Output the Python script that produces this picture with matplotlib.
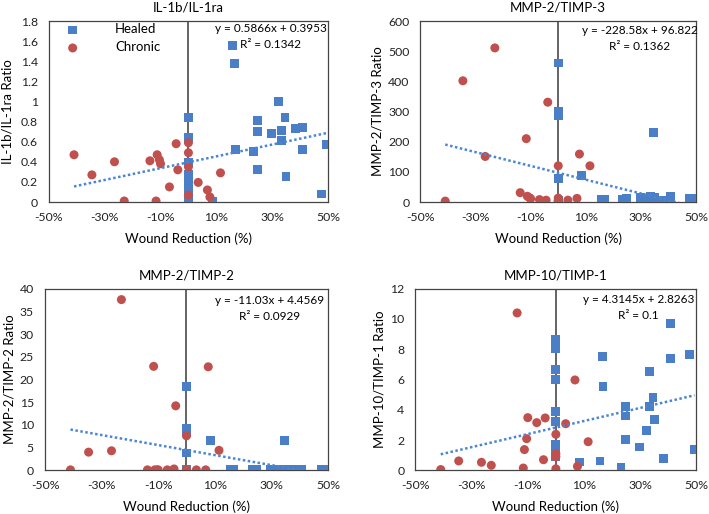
import matplotlib.pyplot as plt
import numpy as np
from matplotlib.ticker import FuncFormatter, MultipleLocator

plt.rcParams['font.family'] = ['Lato', 'DejaVu Sans']

# Wound reduction (as fraction) per patient, same order in every panel
healed_x = [0, 0, 0, 0, 0, 0, 0, 0, 0,
            0.085, 0.157, 0.166, 0.168, 0.232, 0.247, 0.247, 0.247, 0.298,
            0.323, 0.334, 0.334, 0.346, 0.350, 0.383, 0.408, 0.408, 0.476, 0.494]
chronic_x = [-0.41, -0.346, -0.265, -0.230, -0.138, -0.116, -0.112, -0.104,
             -0.100, -0.068, -0.044, -0.038, 0, 0, 0, 0, 0.035, 0.068, 0.077, 0.115]

# IL-1b/IL-1ra
il1_healed = [0.84, 0.64, 0.39, 0.27, 0.22, 0.18, 0.13, 0.08, 0.02,
              0.01, 1.56, 1.38, 0.52, 0.50, 0.81, 0.70, 0.32, 0.68,
              1.00, 0.71, 0.61, 0.84, 0.25, 0.73, 0.74, 0.52, 0.08, 0.57]
il1_chronic = [0.47, 0.27, 0.40, 0.01, 0.41, 0.01, 0.47, 0.42, 0.38, 0.15,
               0.58, 0.32, 0.59, 0.49, 0.35, 0.07, 0.195, 0.12, 0.05, 0.29]

# MMP-2/TIMP-3
m23_healed = [461, 302, 285, 79, 6, 4, 3, 2, 1,
              87, 7, 9, 8, 10, 12, 11, 13, 14,
              13, 15, 17, 230, 15, 4, 12, 20, 11, 11]
m23_chronic = [3, 402, 151, 511, 31, 210, 19, 14, 11, 8,
               6, 331, 120, 13, 5, 2, 6, 12, 159, 120]

# MMP-2/TIMP-2
m22_healed = [18.5, 9.3, 8.4, 3.8, 0.1, 0.1, 0.1, 0.1, 0.1,
              6.6, 0.1, 0.1, 0.1, 0.1, 0.1, 0.1, 0.1, 0.1,
              0.1, 0.1, 0.1, 6.6, 0.1, 0.1, 0.1, 0.1, 0.1, 0.1]
m22_chronic = [0.1, 4.0, 4.3, 37.6, 0.1, 22.9, 0.1, 0.1, 0.1, 0.1,
               0.3, 14.2, 7.6, 0.1, 0.1, 0.1, 0.1, 0.1, 22.8, 4.4]

# MMP-10/TIMP-1
m101_healed = [8.66, 8.04, 6.67, 5.99, 3.90, 3.24, 1.7, 1.3, 0.9,
               0.55, 0.62, 7.51, 5.55, 0.20, 4.23, 3.59, 2.05, 1.54,
               2.62, 6.54, 4.23, 4.80, 3.37, 0.77, 9.69, 7.38, 7.67, 1.39]
m101_chronic = [0.05, 0.62, 0.53, 0.33, 10.4, 0.15, 1.37, 2.09, 3.48, 3.15,
                0.70, 3.46, 2.38, 1.1, 0.9, 0.1, 3.08, 5.97, 0.26, 1.89]

titles = ["IL-1b/IL-1ra", "MMP-2/TIMP-3", "MMP-2/TIMP-2", "MMP-10/TIMP-1"]
ylabels = ["IL-1b/IL-1ra Ratio", "MMP-2/TIMP-3 Ratio", "MMP-2/TIMP-2 Ratio", "MMP-10/TIMP-1 Ratio"]
slopes = [0.5866, -228.58, -11.03, 4.3145]
intercepts = [0.3953, 96.822, 4.4569, 2.8263]
eq_texts = ["y = 0.5866x + 0.3953\nR² = 0.1342",
            "y = -228.58x + 96.822\nR² = 0.1362",
            "y = -11.03x + 4.4569\nR² = 0.0929",
            "y = 4.3145x + 2.8263\nR² = 0.1"]
ymax = [1.8, 600, 40, 12]
ystep = [0.2, 100, 5, 2]
healed_y = [il1_healed, m23_healed, m22_healed, m101_healed]
chronic_y = [il1_chronic, m23_chronic, m22_chronic, m101_chronic]

BLUE = "#4A7EC7"
RED = "#C0504D"
TREND = "#4A86D4"

fig = plt.figure(figsize=(7.09, 5.14), dpi=100)
boxes = [[0.069, 0.607, 0.3935, 0.352],
         [0.593, 0.607, 0.3887, 0.352],
         [0.0635, 0.085, 0.399, 0.3533],
         [0.586, 0.085, 0.396, 0.3533]]
ylab_x = [-0.149, -0.155, -0.126, -0.128]
eq_y = [0.914, 0.905, 0.89, 0.899]


def fmt_y(v, pos):
    return f"{v:g}"


for i in range(4):
    ax = fig.add_axes(boxes[i])
    ax.axvline(0, color="#3A3A3A", lw=1.1, zorder=1)
    ax.scatter(healed_x, healed_y[i], marker="s", s=40, color=BLUE,
               edgecolors="none", zorder=3, label="Healed")
    ax.scatter(chronic_x, chronic_y[i], marker="o", s=42, color=RED,
               edgecolors="none", zorder=4, label="Chronic")

    # linear trend line over combined data range
    all_x = np.array(healed_x + chronic_x)
    xs = np.array([all_x.min(), all_x.max()])
    ax.plot(xs, slopes[i] * xs + intercepts[i], linestyle=(0, (1, 1)),
            color=TREND, lw=1.8, zorder=5)

    ax.set_xlim(-0.5, 0.5)
    ax.set_ylim(0, ymax[i])
    ax.set_xticks([-0.5, -0.3, -0.1, 0.1, 0.3, 0.5])
    ax.xaxis.set_major_formatter(FuncFormatter(lambda v, p: f"{int(round(v * 100))}%"))
    ax.yaxis.set_major_locator(MultipleLocator(ystep[i]))
    ax.yaxis.set_major_formatter(FuncFormatter(fmt_y))
    ax.tick_params(length=0, labelsize=8.8, colors="#222222")
    ax.tick_params(axis="y", pad=8)
    ax.tick_params(axis="x", pad=7)
    for sp in ax.spines.values():
        sp.set_color("#444444")
        sp.set_linewidth(0.9)

    ax.set_xlabel("Wound Reduction (%)", fontsize=9.5)
    ax.xaxis.set_label_coords(0.5, -0.203)
    ax.xaxis.label.set_va("center")
    ax.set_ylabel(ylabels[i], fontsize=9.5)
    ax.yaxis.set_label_coords(ylab_x[i], 0.5)
    ax.yaxis.label.set_va("center")
    ax.text(0.5, 1.075, titles[i], transform=ax.transAxes, ha="center",
            va="center", fontsize=9.5)
    ax.text(0.795, eq_y[i], eq_texts[i], transform=ax.transAxes, ha="center",
            va="center", fontsize=8.5, linespacing=1.55)

    if i == 0:
        ax.legend(loc="upper left", bbox_to_anchor=(0.0, 1.045), frameon=False,
                  fontsize=9.5, handletextpad=2.2, labelspacing=0.45,
                  borderpad=0.3)

fig.savefig("out.png", dpi=100)
